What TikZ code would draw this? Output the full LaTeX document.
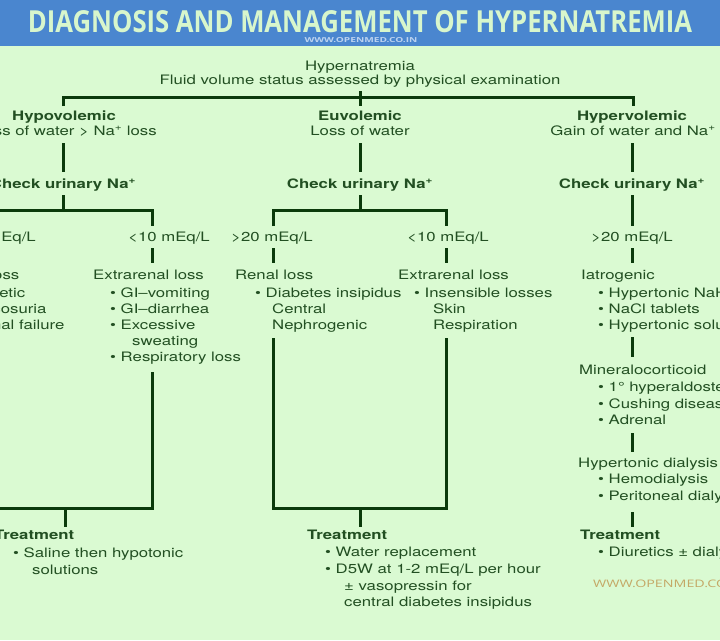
\documentclass[tikz,border=0pt]{standalone}
\usepackage{graphicx}
\usepackage{fontspec}
\setmainfont{TeX Gyre Heros}[FakeStretch=1.29]
\newfontfamily\titlefont{Open Sans}
\definecolor{bgg}{HTML}{DAFAD2}
\definecolor{hb}{HTML}{4A86CF}
\definecolor{titlec}{HTML}{D8F6CC}
\definecolor{urlc}{HTML}{BCD2F0}
\definecolor{tanc}{HTML}{C4A866}
\definecolor{tg}{HTML}{224F22}
\definecolor{lg}{HTML}{0B3A0B}
\newcommand\putW[4]{\node[txt,anchor=base west] (#1) at (#2,#3) {#4};}
\newcommand\putC[4]{\node[txt,anchor=base] (#1) at (#2,#3) {#4};}
\newcommand\bul{\textbullet\ }
\begin{document}
\begin{tikzpicture}[x=1pt,y=-1pt,
  txt/.style={inner sep=0pt, text=tg, font=\fontsize{13}{16.5}\selectfont},
  ln/.style={draw=lg, line width=3pt}]
\useasboundingbox (0,0) rectangle (720,640);
\fill[bgg] (0,0) rectangle (720,640);
\fill[hb] (0,0) rectangle (720,46);
\node[inner sep=0pt, text=titlec] (title) at (360,21.5)
  {\resizebox{664pt}{22pt}{\titlefont\bfseries DIAGNOSIS AND MANAGEMENT OF HYPERNATREMIA}};
\node[inner sep=0pt, text=urlc] (url1) at (361,40.5)
  {\resizebox{113pt}{5pt}{\titlefont\bfseries WWW.OPENMED.CO.IN}};
\node[inner sep=0pt, text=tanc, anchor=west] (url2) at (593,584)
  {\resizebox{152pt}{7.5pt}{\titlefont WWW.OPENMED.CO.IN}};

% top
\putC{hyp}{360}{70}{Hypernatremia}
\putC{fluid}{360}{84}{Fluid volume status assessed by physical examination}
\putC{hypo}{64}{120}{\bfseries Hypovolemic}
\putC{hypos}{66}{135}{Loss of water > Na\textsuperscript{+} loss}
\putC{euvo}{360}{120}{\bfseries Euvolemic}
\putC{euvos}{360}{135}{Loss of water}
\putC{hyper}{632}{120}{\bfseries Hypervolemic}
\putC{hypers}{633}{135}{Gain of water and Na\textsuperscript{+}}
\putC{chkL}{63}{188}{\bfseries Check urinary Na\textsuperscript{+}}
\putC{chkM}{360}{188}{\bfseries Check urinary Na\textsuperscript{+}}
\putC{chkR}{632}{188}{\bfseries Check urinary Na\textsuperscript{+}}
\putC{mLa}{-5}{241}{>20 mEq/L}
\putC{mLb}{169}{241}{<10 mEq/L}
\putC{mMa}{272}{241}{>20 mEq/L}
\putC{mMb}{448}{241}{<10 mEq/L}
\putC{mRa}{632}{241}{>20 mEq/L}

% left-left (renal loss, hypovolemic)
\putW{lr0}{-59}{279}{Renal loss}
\putW{lr1}{-42}{297}{\bul Diuretic}
\putW{lr2}{-43}{313}{\bul Glycosuria}
\putW{lr3}{-40}{329}{\bul Renal failure}
% left extrarenal
\putW{le0}{93}{279}{Extrarenal loss}
\putW{le1}{110}{297}{\bul GI--vomiting}
\putW{le2}{110}{313}{\bul GI--diarrhea}
\putW{le3}{110}{329}{\bul Excessive}
\putW{le4}{132}{345}{sweating}
\putW{le5}{110}{361}{\bul Respiratory loss}
% middle renal
\putW{mr0}{235}{279}{Renal loss}
\putW{mr1}{255}{297}{\bul Diabetes insipidus}
\putW{mr2}{272}{313}{Central}
\putW{mr3}{272}{329}{Nephrogenic}
% middle extrarenal
\putW{me0}{398}{279}{Extrarenal loss}
\putW{me1}{414}{297}{\bul Insensible losses}
\putW{me2}{433}{313}{Skin}
\putW{me3}{433}{329}{Respiration}
% right
\putW{ri0}{581}{279}{Iatrogenic}
\putW{ri1}{598}{297}{\bul Hypertonic NaHCO\textsubscript{3}}
\putW{ri2}{598}{313}{\bul NaCl tablets}
\putW{ri3}{598}{329}{\bul Hypertonic solution}
\putW{rm0}{579}{374}{Mineralocorticoid}
\putW{rm1}{598}{391}{\bul 1\textdegree{} hyperaldosteronism}
\putW{rm2}{598}{408}{\bul Cushing disease}
\putW{rm3}{598}{424}{\bul Adrenal}
\putW{rd0}{578}{467}{Hypertonic dialysis}
\putW{rd1}{598}{483}{\bul Hemodialysis}
\putW{rd2}{598}{500}{\bul Peritoneal dialysis}
\putW{rt0}{580}{539}{\bfseries Treatment}
\putW{rt1}{598}{556}{\bul Diuretics \textpm{} dialysis}
% treatments
\putW{lt0}{-6}{539}{\bfseries Treatment}
\putW{lt1}{13}{557}{\bul Saline then hypotonic}
\putW{lt2}{32}{574}{solutions}
\putW{mt0}{307}{539}{\bfseries Treatment}
\putW{mt1}{325}{556}{\bul Water replacement}
\putW{mt2}{325}{573}{\bul D5W at 1-2 mEq/L per hour}
\putW{mt3}{344}{590}{\textpm{} vasopressin for}
\putW{mt4}{344}{606}{central diabetes insipidus}

% connectors: top
\coordinate (t0) at (360,91);
\coordinate (tM1) at (360,106);
\coordinate (tL) at (63,97); \coordinate (tR) at (633,97);
\coordinate (tL1) at (63,106); \coordinate (tR1) at (633,106);
\draw[ln] (tL1) -- (tL) -- (tR) -- (tR1);
\draw[ln] (t0) -- (tM1);
% left
\coordinate (a1) at (63,143); \coordinate (a2) at (63,172);
\coordinate (a3) at (63,195); \coordinate (a4) at (63,210);
\coordinate (lA) at (-22,226); \coordinate (lH1) at (-22,210);
\coordinate (lH2) at (152,210); \coordinate (lB) at (152,226);
\draw[ln] (a1) -- (a2);
\draw[ln] (a3) -- (a4);
\draw[ln] (lA) -- (lH1) -- (lH2) -- (lB);
\coordinate (lC1) at (152,248); \coordinate (lC2) at (152,263);
\draw[ln] (lC1) -- (lC2);
\coordinate (lD1) at (152,372); \coordinate (lD2) at (152,508);
\coordinate (lD3) at (-22,508); \coordinate (lD4) at (-22,380);
\draw[ln] (lD1) -- (lD2) -- (lD3) -- (lD4);
\coordinate (lE1) at (65,508); \coordinate (lE2) at (65,527);
\draw[ln] (lE1) -- (lE2);
% middle
\coordinate (b1) at (360,143); \coordinate (b2) at (360,172);
\coordinate (b3) at (360,195); \coordinate (b4) at (360,210);
\coordinate (mA) at (273,226); \coordinate (mH1) at (273,210);
\coordinate (mH2) at (446,210); \coordinate (mB) at (446,226);
\draw[ln] (b1) -- (b2);
\draw[ln] (b3) -- (b4);
\draw[ln] (mA) -- (mH1) -- (mH2) -- (mB);
\coordinate (mC1) at (273,248); \coordinate (mC2) at (273,263);
\coordinate (mC3) at (446,248); \coordinate (mC4) at (446,263);
\draw[ln] (mC1) -- (mC2);
\draw[ln] (mC3) -- (mC4);
\coordinate (mD1) at (273,338); \coordinate (mD2) at (273,508);
\coordinate (mD3) at (446,508); \coordinate (mD4) at (446,338);
\draw[ln] (mD1) -- (mD2) -- (mD3) -- (mD4);
\coordinate (mE1) at (360,508); \coordinate (mE2) at (360,527);
\draw[ln] (mE1) -- (mE2);
% right
\coordinate (c1) at (632,143); \coordinate (c2) at (632,172);
\coordinate (c3) at (632,195); \coordinate (c4) at (632,226);
\coordinate (c5) at (632,248); \coordinate (c6) at (632,263);
\coordinate (c7) at (632,337); \coordinate (c8) at (632,357);
\coordinate (c9) at (632,433); \coordinate (c10) at (632,452);
\coordinate (c11) at (632,512); \coordinate (c12) at (632,527);
\draw[ln] (c1) -- (c2);
\draw[ln] (c3) -- (c4);
\draw[ln] (c5) -- (c6);
\draw[ln] (c7) -- (c8);
\draw[ln] (c9) -- (c10);
\draw[ln] (c11) -- (c12);
\end{tikzpicture}
\end{document}
